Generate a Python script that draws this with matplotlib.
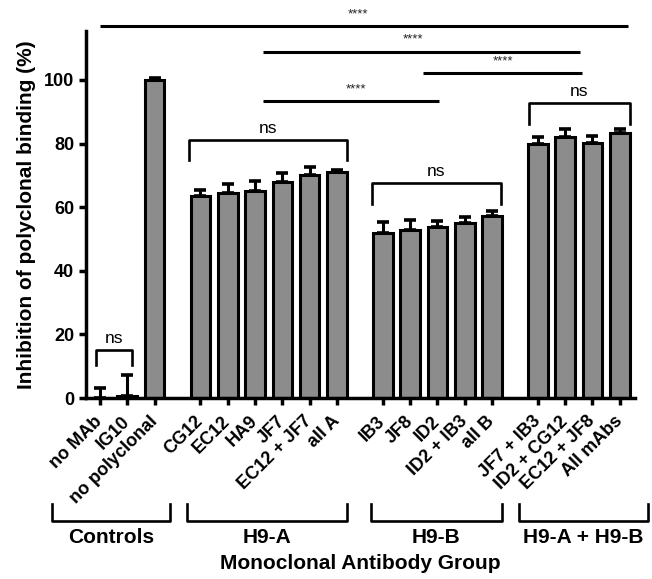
import matplotlib
matplotlib.use("Agg")
import matplotlib.pyplot as plt
import numpy as np

plt.rcParams['font.family'] = ['Liberation Sans', 'DejaVu Sans']

labels = ["no MAb", "IG10", "no polyclonal",
          "CG12", "EC12", "HA9", "JF7", "EC12 + JF7", "all A",
          "IB3", "JF8", "ID2", "ID2 + IB3", "all B",
          "JF7 + IB3", "ID2 + CG12", "EC12 + JF8", "All mAbs"]
means = [0.0, 0.6, 100.0,
         63.5, 64.4, 65.2, 68.0, 70.0, 71.0,
         52.0, 52.8, 53.9, 55.1, 57.2,
         79.8, 82.2, 80.1, 83.2]
errs = [3.1, 6.7, 0.5,
        1.9, 2.9, 3.1, 2.8, 2.6, 0.8,
        3.3, 3.2, 1.9, 1.9, 1.7,
        2.1, 2.4, 2.4, 1.3]
group_sizes = [3, 6, 5, 4]
group_names = ["Controls", "H9-A", "H9-B", "H9-A + H9-B"]

# positions: bars spaced by 1, groups separated by an extra gap
gap = 1.68
pos = []
start = 0.0
for gs in group_sizes:
    pos.extend(start + np.arange(gs))
    start = pos[-1] + gap
pos = np.array(pos)

fig = plt.figure(figsize=(6.52, 5.79), dpi=100)
ax = fig.add_axes([0.132, 0.3126, 0.842, 0.634])

ax.bar(pos, means, width=0.72, color='#8c8c8c', edgecolor='black', linewidth=2.2, zorder=2)
ax.errorbar(pos, means, yerr=[np.zeros(len(errs)), errs], fmt='none', ecolor='black',
            elinewidth=2.2, capsize=4.0, capthick=2.6, zorder=3)

ax.set_xlim(-0.51, 19.6)
ax.set_ylim(0, 115.4)
ax.set_yticks([0, 20, 40, 60, 80, 100])
for s in ['top', 'right']:
    ax.spines[s].set_visible(False)
for s in ['left', 'bottom']:
    ax.spines[s].set_linewidth(2.5)
ax.tick_params(axis='both', width=2.5, length=5, labelsize=13)
for t in ax.get_yticklabels():
    t.set_fontweight('bold')
ax.set_xticks(pos)
ax.set_xticklabels(labels, rotation=45, ha='right', va='center', rotation_mode='anchor',
                   fontweight='bold', fontsize=13)
ax.tick_params(axis='x', pad=10)
ax.set_ylabel("Inhibition of polyclonal binding (%)", fontsize=15, fontweight='bold', labelpad=6)

# significance lines
sig = [(0.0, 19.34, 116.8, 9.45),
       (5.97, 17.58, 108.9, 11.47),
       (11.83, 17.65, 102.1, 14.76),
       (5.97, 12.42, 93.4, 9.38)]
for x0, x1, y, xt in sig:
    ax.plot([x0, x1], [y, y], color='black', lw=2.2, clip_on=False, solid_capstyle='butt')
    ax.text(xt, y + 1.8, "****", ha='center', va='bottom', fontsize=9.5, color='#222222',
            clip_on=False)

# ns brackets
ns_br = [(-0.16, 1.17, 15.1, 10.4),
         (3.26, 9.04, 81.1, 74.8),
         (9.95, 14.7, 67.5, 61.0),
         (15.73, 19.4, 92.7, 86.1)]
for x0, x1, ytop, ybot in ns_br:
    ax.plot([x0, x0, x1, x1], [ybot, ytop, ytop, ybot], color='black', lw=1.9, clip_on=False)
    ax.text((x0 + x1) / 2, ytop + 1.2, "ns", ha='center', va='bottom', fontsize=12.5)

# group brackets under the axis
tr = ax.get_xaxis_transform()
gb = [(-1.77, 2.56), (3.17, 9.06), (9.93, 14.72), (15.35, 20.07)]
for (x0, x1), name in zip(gb, group_names):
    ax.plot([x0, x0, x1, x1], [-0.289, -0.334, -0.334, -0.289], color='black', lw=1.9,
            transform=tr, clip_on=False)
    ax.text((x0 + x1) / 2, -0.355, name, ha='center', va='top', fontsize=15,
            fontweight='bold', transform=tr)

ax.text(0.5, -0.425, "Monoclonal Antibody Group", ha='center', va='top', fontsize=15,
        fontweight='bold', transform=ax.transAxes)

fig.savefig("out.png", dpi=100)
